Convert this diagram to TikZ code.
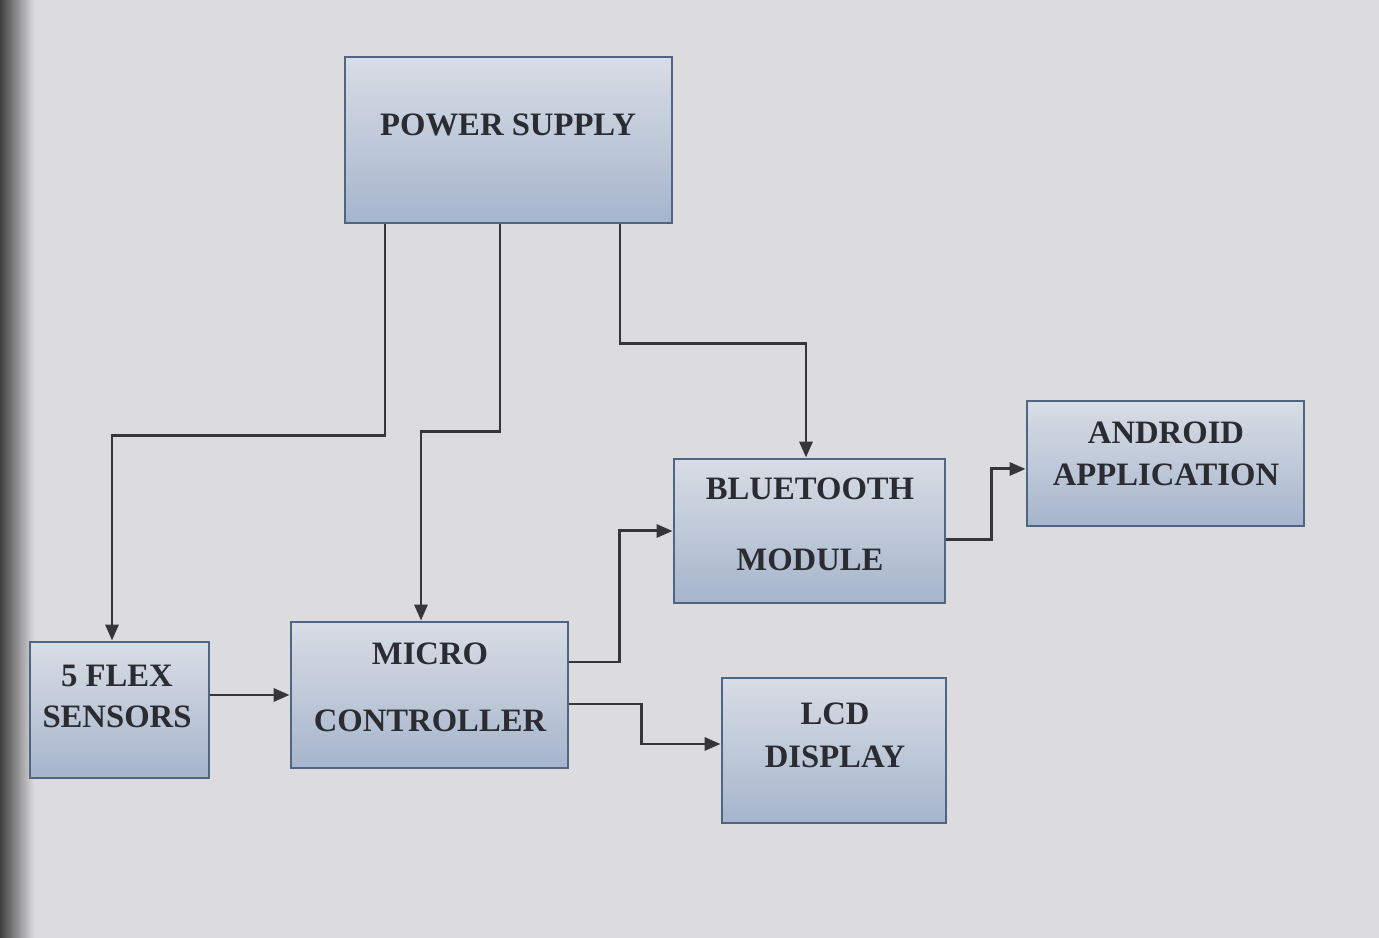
\documentclass[tikz,border=0pt]{standalone}
\usepackage{fontspec}
\setmainfont{Liberation Serif}
\usetikzlibrary{arrows.meta}
\definecolor{paper}{HTML}{DCDCDE}
\definecolor{boxtop}{HTML}{D8DDE5}
\definecolor{boxbot}{HTML}{A6B5CC}
\definecolor{boxline}{HTML}{4F6584}
\definecolor{ink}{HTML}{2B2C31}
\definecolor{wire}{HTML}{363638}
\tikzset{
	block/.style={draw=boxline, line width=0.8pt, top color=boxtop, bottom color=boxbot,
		inner sep=0pt},
	lbl/.style={text=ink, font=\fontsize{9.3}{11}\selectfont\bfseries, inner sep=0pt},
	wire/.style={draw=wire, line width=0.85pt, -{Triangle[length=1.6mm,width=1.3mm]}},
}
\begin{document}
\begin{tikzpicture}
			% page
			\fill[paper] (0,0) rectangle (13.79,9.38);
			\shade[left color=black!75, right color=paper] (0,0) rectangle (0.34,9.38);
			\useasboundingbox (0,0) rectangle (13.79,9.38);
			% blocks
			\node[block, minimum width=3.27cm, minimum height=1.66cm] (ps) at (5.085,7.98) {};
			\node[block, minimum width=2.71cm, minimum height=1.44cm] (bt) at (8.095,4.07) {};
			\node[block, minimum width=2.77cm, minimum height=1.25cm] (app) at (11.655,4.745) {};
			\node[block, minimum width=1.79cm, minimum height=1.36cm] (flex) at (1.195,2.28) {};
			\node[block, minimum width=2.77cm, minimum height=1.46cm] (mc) at (4.295,2.43) {};
			\node[block, minimum width=2.24cm, minimum height=1.45cm] (lcd) at (8.34,1.875) {};
			% texts
			\node[lbl] (pstxt) at (5.08,8.13) {POWER SUPPLY};
			\node[lbl] (bttxta) at (8.1,4.49) {BLUETOOTH};
			\node[lbl] (bttxtb) at (8.1,3.78) {MODULE};
			\node[lbl] (apptxta) at (11.66,5.05) {ANDROID};
			\node[lbl] (apptxtb) at (11.66,4.63) {APPLICATION};
			\node[lbl] (flextxta) at (1.17,2.62) {5 FLEX};
			\node[lbl] (flextxtb) at (1.17,2.21) {SENSORS};
			\node[lbl] (mctxta) at (4.3,2.84) {MICRO};
			\node[lbl] (mctxtb) at (4.3,2.17) {CONTROLLER};
			\node[lbl] (lcdtxta) at (8.35,2.24) {LCD};
			\node[lbl] (lcdtxtb) at (8.35,1.81) {DISPLAY};
			% supply lines
			\draw[wire] ([xshift=-1.235cm]ps.south) -- ++(0,-2.11) -| ([xshift=-0.075cm]flex.north);
			\draw[wire] ([xshift=-0.085cm]ps.south) -- ++(0,-2.07) -| ([xshift=-0.085cm]mc.north);
			\draw[wire] ([xshift=1.115cm]ps.south) -- ++(0,-1.19) -| ([xshift=-0.035cm]bt.north);
			% signal lines
			\draw[wire] (mc.west -| flex.east) -- (mc.west);
			\draw[wire] ([yshift=0.33cm]mc.east) -- ++(0.5,0) |- (bt.west);
			\draw[wire] ([yshift=-0.09cm]mc.east) -- ++(0.72,0) |- ([yshift=0.065cm]lcd.west);
			\draw[wire] ([yshift=-0.09cm]bt.east) -- ++(0.45,0) |- ([yshift=-0.055cm]app.west);
\end{tikzpicture}
\end{document}
